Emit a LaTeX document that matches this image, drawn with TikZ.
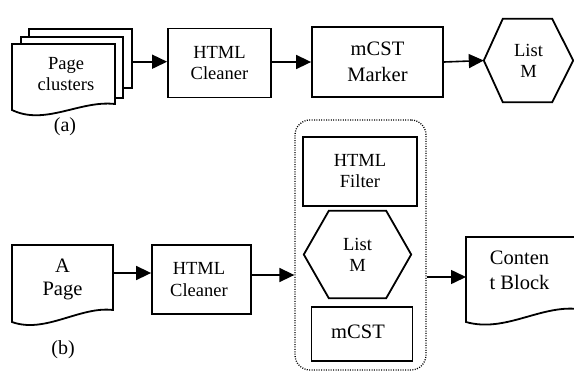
\documentclass[tikz,border=0pt]{standalone}
\usepackage{fontspec}
\setmainfont{Liberation Serif}
\usetikzlibrary{arrows.meta,calc}

\tikzset{
  lbl/.style={font=\fontsize{18.5}{21}\selectfont, align=center, inner sep=0pt},
  lblbig/.style={font=\fontsize{20.5}{24}\selectfont, align=center, inner sep=0pt},
  boxed/.style={draw, line width=1.8pt},
  outline/.style={line width=1.8pt, line join=miter},
  flow/.style={line width=1.6pt, -{Triangle[length=15pt,width=14pt]}},
  group/.style={draw, line width=1.3pt, dash pattern=on 1pt off 1.4pt,
                rounded corners=15pt, inner sep=0pt},
}

\begin{document}
\begin{tikzpicture}[x=1pt,y=-1pt]
  \useasboundingbox (0,0) rectangle (574,373);

  % ---------- (a) ----------
  % stacked page clusters (back to front)
  \draw[outline] (29,37) -- (29,29) -- (132,29) -- (132,88) -- (123,88);
  \draw[outline] (21,44) -- (21,37) -- (123,37) -- (123,98) -- (115,98);
  \draw[outline, fill=white] (12,44) -- (115,44) -- (115,104)
        .. controls (80,100) and (45,126) .. (12,110) -- cycle;
  \node[lbl] (pc) at (66,74) {Page\\clusters};
  \coordinate (pcout) at (132,61.7);

  \node[boxed, lbl, minimum width=103pt, minimum height=69pt] (hc1) at (219.5,63) {HTML\\Cleaner};
  \node[boxed, minimum width=131pt, minimum height=70pt] (mcm) at (377.5,62) {};
  \node[lblbig, font=\fontsize{20.5}{26}\selectfont] (mcmtext) at (mcm.center) {mCST\\Marker};

  \node[lbl, minimum width=89pt, minimum height=83pt] (hexA) at (528.5,60.5) {List\\M};
  \draw[outline] (hexA.west) -- ($(hexA.north west)+(19,0)$) -- ($(hexA.north east)+(-21,0)$)
        -- (hexA.east) -- ($(hexA.south east)+(-21,0)$) -- ($(hexA.south west)+(19,0)$) -- cycle;

  \draw[flow] (pcout) -- (pcout -| hc1.west);
  \draw[flow] (mcm.west -| hc1.east) -- (mcm.west);
  \draw[flow] (mcm.east) -- (hexA.west);

  \node[font=\fontsize{20}{24}\selectfont, inner sep=0pt] (capa) at (65,127) {(a)};

  % ---------- (b) ----------
  \draw[outline] (12,245) -- (113,245) -- (113,310)
        .. controls (80,306) and (45,334) .. (12,322) -- cycle;
  \node[lblbig, font=\fontsize{20.5}{23}\selectfont] (pageA) at (62.5,279.5) {A\\Page};
  \coordinate (pageout) at (113,273);

  \node[boxed, minimum width=99pt, minimum height=69pt] (hc2) at (201.5,279.5) {};
  \node[lbl, font=\fontsize{18.5}{22}\selectfont] (hc2text) at (199,279.5) {HTML\\Cleaner};

  % processing group
  \node[group, minimum width=131pt, minimum height=250pt] (grp) at (360.5,245) {};
  \node[boxed, lbl, minimum width=114pt, minimum height=69pt] (hf) at (360,171.5) {HTML\\Filter};
  \node[lbl, minimum width=107pt, minimum height=87pt] (hexB) at (357.5,254.5) {List\\M};
  \draw[outline] (hexB.west) -- ($(hexB.north west)+(25,0)$) -- ($(hexB.north east)+(-25,0)$)
        -- (hexB.east) -- ($(hexB.south east)+(-25,0)$) -- ($(hexB.south west)+(25,0)$) -- cycle;
  \node[boxed, minimum width=101pt, minimum height=54pt] (mcst) at (362,334) {};
  \node[lblbig] (mcsttext) at (358,332) {mCST};

  % content block document
  \draw[outline] (466,237) -- (578,237) -- (578,309)
        .. controls (540,305) and (505,333) .. (466,322) -- cycle;
  \node[lblbig, font=\fontsize{20.5}{25}\selectfont] (cb) at (519.5,270.5) {Conten\\t Block};
  \coordinate (cbin) at (466,277);

  \draw[flow] (pageout) -- (pageout -| hc2.west);
  \draw[flow] ([yshift=4.5pt]hc2.east) -- ([yshift=4.5pt]hc2.east -| grp.west);
  \draw[flow] (cbin -| grp.east) -- (cbin);

  \node[font=\fontsize{20}{24}\selectfont, inner sep=0pt] (capb) at (63,350) {(b)};
\end{tikzpicture}
\end{document}
